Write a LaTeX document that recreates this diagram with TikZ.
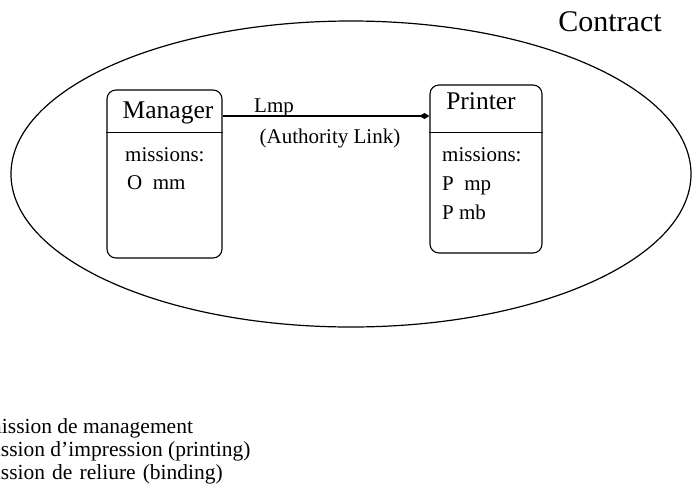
\documentclass[tikz,border=0pt]{standalone}
\usepackage{fontspec}
\setmainfont{Liberation Serif}
\usetikzlibrary{arrows.meta}
\begin{document}
\begin{tikzpicture}[x=1pt,y=-1pt,
  agentbox/.style={draw, line width=1.1pt, rounded corners=9pt, inner sep=0pt},
  divider/.style={line width=0.9pt},
  hdr/.style={inner sep=0pt, anchor=base, font=\fontsize{25.5}{28}\selectfont},
  body/.style={inner sep=0pt, anchor=base west, font=\fontsize{21}{24}\selectfont},
  lbl/.style={inner sep=0pt, anchor=base, font=\fontsize{21}{24}\selectfont},
  note/.style={inner sep=0pt, anchor=base west, font=\fontsize{21.5}{24}\selectfont},
  link/.style={line width=1.1pt, -{Diamond[length=10pt,width=6pt]}}]
\clip (0,0) rectangle (692,488);
\useasboundingbox (0,0) rectangle (692,488);
% contract ellipse
\draw[line width=1.2pt] (351,174) ellipse [x radius=340, y radius=153];
\node[inner sep=0pt, anchor=base, font=\fontsize{30}{34}\selectfont] (contract) at (610,31) {Contract};
% agent boxes
\node[agentbox, minimum width=115, minimum height=168] (mgr) at (164.5,174) {};
\node[agentbox, minimum width=112, minimum height=168] (prn) at (486,169) {};
\coordinate (dv) at (0,132);
\draw[divider] (mgr.west |- dv) -- (mgr.east |- dv);
\draw[divider] (prn.west |- dv) -- (prn.east |- dv);
% headers
\node[hdr] (mgrname) at (168,118) {Manager};
\node[hdr] (prnname) at (481,109) {Printer};
% missions
\node[body] (mgrm) at (125,161) {missions:};
\node[body] (mgro) at (127,189) {O\enspace mm};
\node[body] (prnm) at (442,161) {missions:};
\node[body] (prnp) at (442,190) {P\enspace mp};
\node[body] (prnb) at (442,219) {P mb};
% authority link
\coordinate (ly) at (0,116);
\draw[link] (mgr.east |- ly) -- (prn.west |- ly);
\node[lbl] (lmp) at (274,112) {Lmp};
\node[lbl] (auth) at (330,143) {(Authority Link)};
% legend (clipped at left edge)
\node[note] (l1) at (-15,433) {mission de management};
\node[note] (l2) at (-22,456) {mission d'impression (printing)};
\node[note] (l3) at (-22,479) {mission\hspace{0.33em}de\hspace{0.33em}reliure\hspace{0.33em}(binding)};
\end{tikzpicture}
\end{document}
